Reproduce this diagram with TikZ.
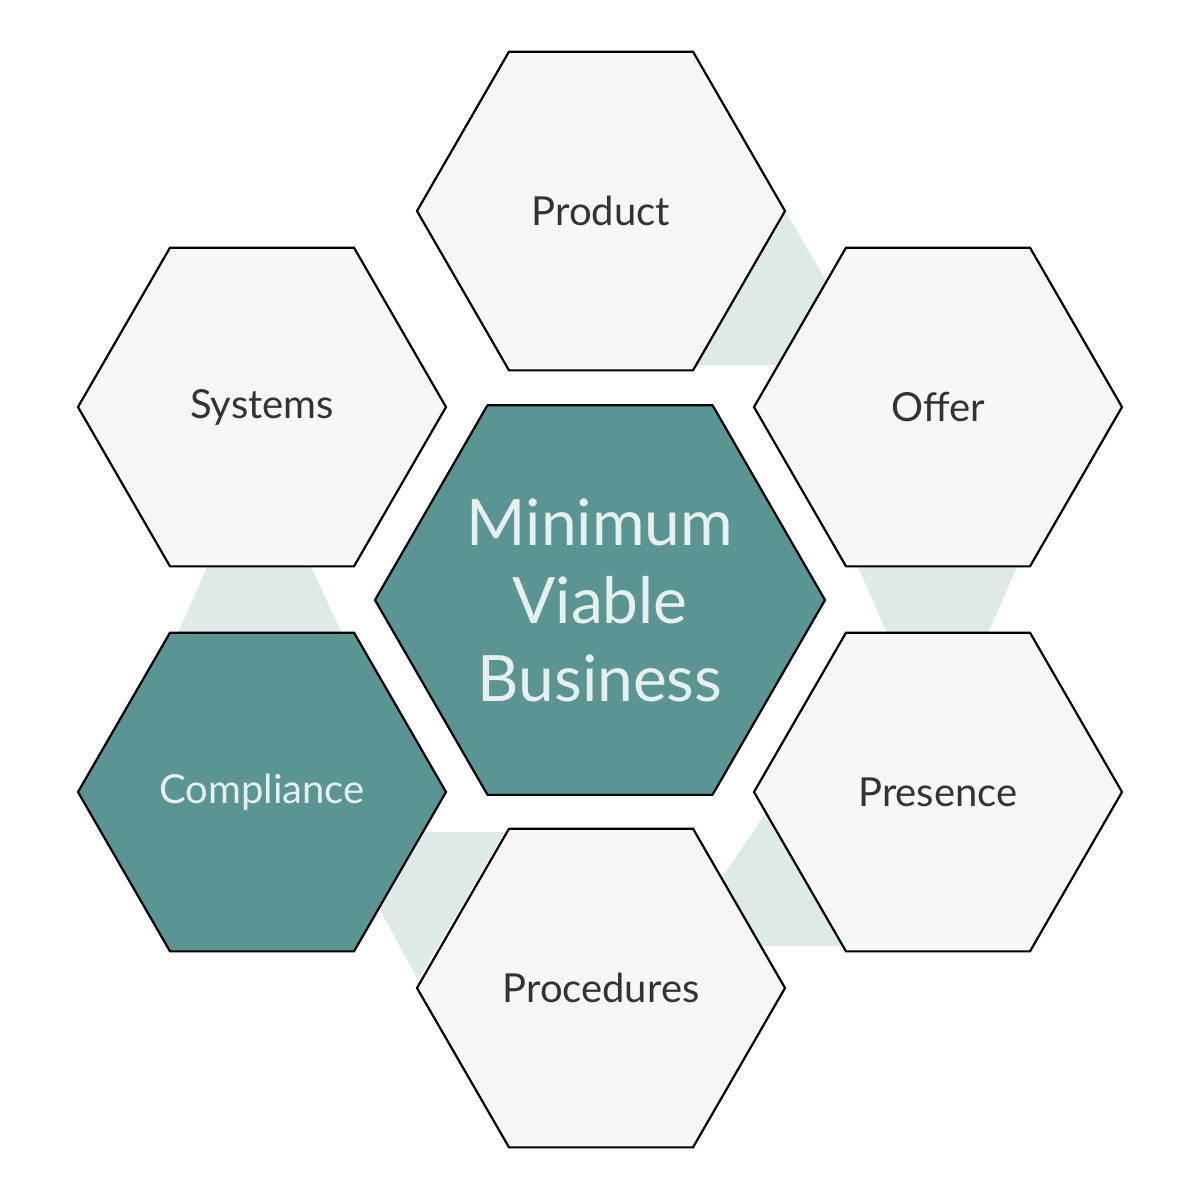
\documentclass[tikz,border=0pt]{standalone}
\usepackage{fontspec}
\setmainfont{Lato}
\usetikzlibrary{shapes.geometric}
\definecolor{teal}{HTML}{5B9593}
\definecolor{hexfill}{HTML}{F7F7F7}
\definecolor{band}{HTML}{DDEAE9}
\definecolor{lighttxt}{HTML}{E6F0EF}
\definecolor{darktxt}{HTML}{333333}
\begin{document}
\begin{tikzpicture}[x=1pt,y=-1pt,
  hex/.style={regular polygon,regular polygon sides=6,minimum size=368pt,inner sep=0pt,outer sep=0pt,draw=black,line width=2.2pt,fill=hexfill,text=darktxt,font=\fontsize{40}{48}\selectfont},
  dark/.style={fill=teal,text=lighttxt},
  bigtxt/.style={font=\fontsize{64}{78}\selectfont,align=center}]
\useasboundingbox[fill=white] (0,0) rectangle (1200,1200);
% connecting bands
\fill[band] (786,212) -- (850,322) -- (850,365) -- (697,365) -- cycle;
\fill[band] (855,560) -- (1020,560) -- (985,640) -- (890,640) -- cycle;
\fill[band] (210,560) -- (308,560) -- (345,640) -- (175,640) -- cycle;
\fill[band] (780,792) -- (720,880) -- (760,946) -- (845,946) -- cycle;
\fill[band] (425,832) -- (505,832) -- (418,980) -- (380,910) -- cycle;
% hexagons
\node[hex] (product) at (601,211) {Product};
\node[hex] (systems) at (262,407) {Systems};
\node[hex] (offer) at (938,407) {Offer};
\node[hex,dark] (compliance) at (262,792) {Compliance};
\node[hex] (presence) at (938,792) {Presence};
\node[hex] (procedures) at (601,988) {Procedures};
\node[hex,dark,minimum size=450pt,bigtxt] (mvb) at (600,600) {Minimum\\Viable\\Business};
\end{tikzpicture}
\end{document}
